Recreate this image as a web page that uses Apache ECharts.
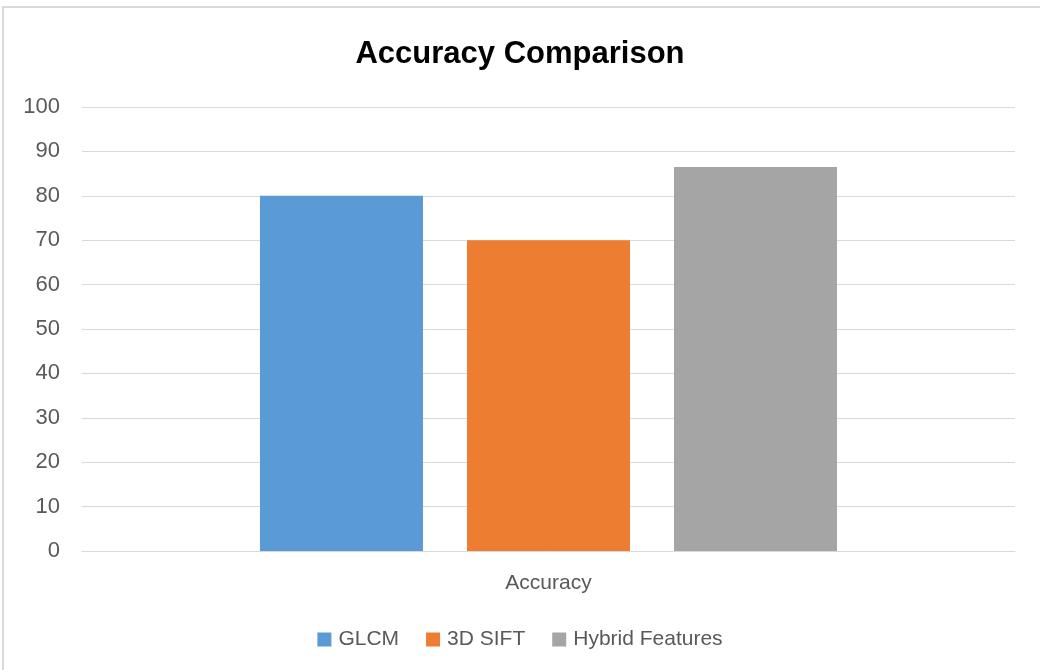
<!DOCTYPE html>
<html><head><meta charset="utf-8">
<script src="https://cdn.jsdelivr.net/npm/echarts@6/dist/echarts.min.js"></script>
<style>html,body{margin:0;padding:0;background:#fff}#c{width:1040px;height:670px}</style>
</head><body><div id="c"></div>
<script>
const categories = ['Accuracy'];
const seriesNames = ['GLCM', '3D SIFT', 'Hybrid Features'];
const glcm = [80];
const sift3d = [70];
const hybrid = [86.5];
const colors = ['#5b9bd5', '#ed7d31', '#a5a5a5'];
const values = [glcm, sift3d, hybrid];

const chart = echarts.init(document.getElementById('c'));
const font = '"Liberation Sans", "DejaVu Sans", sans-serif';
chart.setOption({
  animation: false,
  textStyle: { fontFamily: font },
  graphic: [{ type: 'rect', shape: { x: 3, y: 7, width: 1100, height: 700 }, style: { fill: 'none', stroke: '#d9d9d9', lineWidth: 2 }, z: -1 }],
  title: { text: 'Accuracy Comparison', left: 'center', top: 34, textStyle: { fontSize: 31, fontWeight: 'bold', color: '#000', fontFamily: font } },
  legend: { top: 624, left: 'center', itemWidth: 14, itemHeight: 14, itemGap: 27, icon: 'rect', textStyle: { fontSize: 21, color: '#595959', fontFamily: font, padding: [0, 0, 0, 2] }, data: seriesNames },
  grid: { left: 82, right: 25, top: 107, bottom: 119, containLabel: false },
  xAxis: { type: 'category', data: categories, axisLine: { lineStyle: { color: '#d9d9d9', width: 1 } }, axisTick: { show: false }, axisLabel: { fontSize: 21, color: '#595959', margin: 22 } },
  yAxis: { type: 'value', min: 0, max: 100, interval: 10, axisLine: { show: false }, axisTick: { show: false }, splitLine: { lineStyle: { color: '#d9d9d9', width: 1 } }, axisLabel: { fontSize: 22, color: '#595959', margin: 22 } },
  series: seriesNames.map((n, i) => ({ name: n, type: 'bar', data: values[i], barWidth: 163, barGap: '27%', itemStyle: { color: colors[i] } }))
});
</script></body></html>
